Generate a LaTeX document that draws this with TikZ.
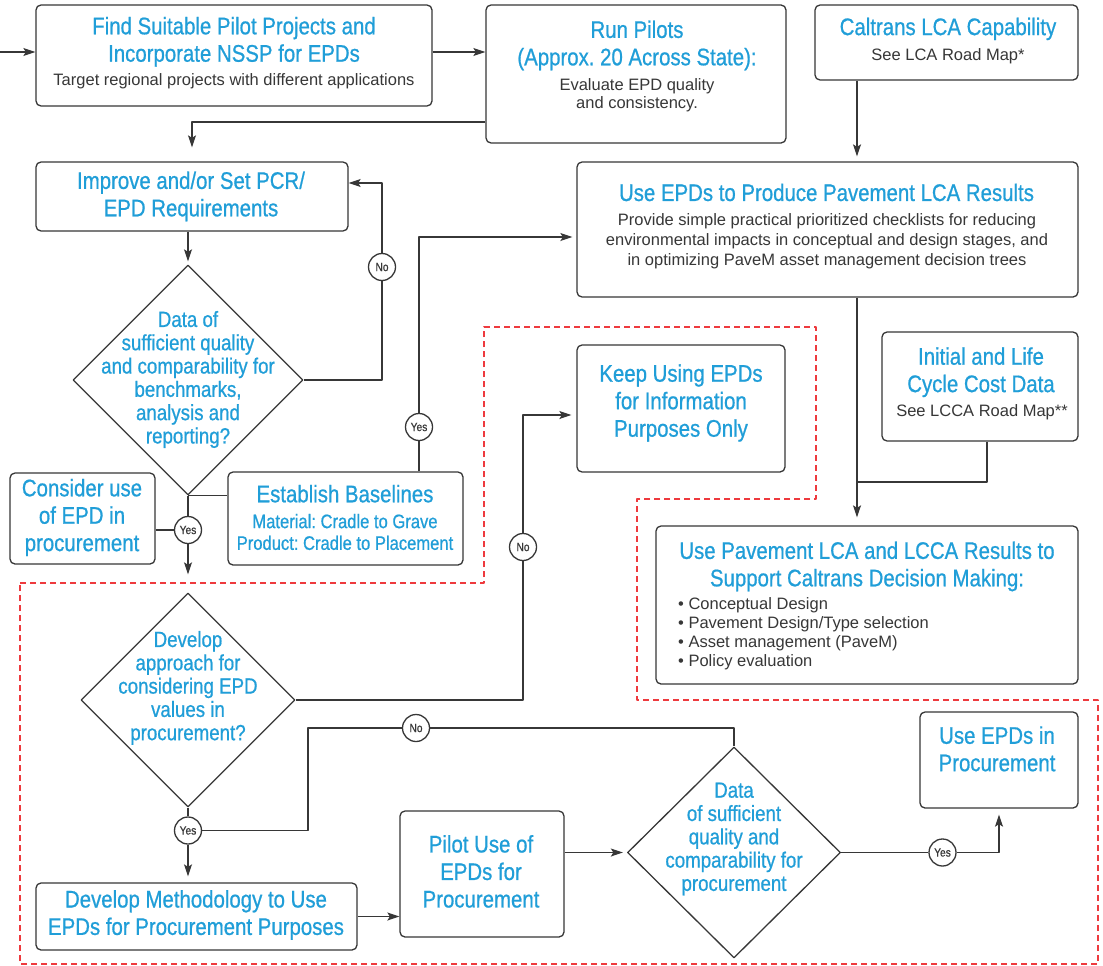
\documentclass[tikz,border=0pt]{standalone}
\usepackage{fontspec}
\setmainfont{Liberation Sans}
\newfontfamily\condf[FakeStretch=0.85,FakeBold=0.7]{Liberation Sans}
\usetikzlibrary{arrows.meta,shapes.geometric,calc}
\definecolor{epdblue}{RGB}{32,158,216}
\definecolor{txtgray}{RGB}{55,55,55}
\definecolor{linegray}{RGB}{55,55,55}
\definecolor{dashred}{RGB}{238,58,62}
\frenchspacing
\tikzset{
  rbox/.style={draw=linegray, line width=1.3pt, rounded corners=5pt, fill=white, inner sep=0pt},
  dia/.style={draw=linegray, line width=1.3pt, diamond, aspect=1, inner sep=0pt},
  ttl/.style={font=\condf\fontsize{24}{27.4}\selectfont, text=epdblue, align=center, inner sep=0pt},
  bdy/.style={font=\fontsize{16.5}{20}\selectfont, text=txtgray, align=center, inner sep=0pt},
  dtx/.style={font=\condf\fontsize{22}{23.3}\selectfont, text=epdblue, align=center, inner sep=0pt},
  subt/.style={font=\condf\fontsize{19.5}{21.7}\selectfont, text=epdblue, align=center, inner sep=0pt},
  yn/.style={circle, draw=linegray, line width=1.3pt, fill=white, minimum size=27pt, inner sep=0pt, font=\condf\fontsize{12}{12}\selectfont, text=txtgray},
  conn/.style={draw=linegray, line width=1.3pt},
  arr/.style={conn, -{Stealth[length=12pt, width=8pt, inset=2.5pt]}},
  reddash/.style={draw=dashred, line width=1.4pt, dash pattern=on 6pt off 4pt}
}
\begin{document}
\begin{tikzpicture}[x=1pt, y=-1pt, line join=round]
\fill[white] (0,0) rectangle (1103,966);
\useasboundingbox (0,0) rectangle (1103,966);

% red dashed region
\draw[reddash] (20,583) -- (484,583) -- (484,327) -- (816,327) -- (816,499) -- (637,499) -- (637,700) -- (1098,700) -- (1098,964) -- (20,964) -- cycle;

% boxes
\node[rbox, minimum width=396pt, minimum height=101pt] (A) at (234,55.5) {};
\node[rbox, minimum width=300pt, minimum height=138pt] (B) at (636,74) {};
\node[rbox, minimum width=263pt, minimum height=75pt] (C) at (946.5,42.5) {};
\node[rbox, minimum width=312pt, minimum height=69pt] (D) at (192,196.5) {};
\node[rbox, minimum width=501pt, minimum height=135pt] (E) at (827.5,229.5) {};
\node[rbox, minimum width=196pt, minimum height=109pt] (G) at (980,386.5) {};
\node[rbox, minimum width=208pt, minimum height=127pt] (H) at (681,408.5) {};
\node[rbox, minimum width=235pt, minimum height=93pt] (I) at (345.5,518.5) {};
\node[rbox, minimum width=145pt, minimum height=91pt] (J) at (82.5,518.5) {};
\node[rbox, minimum width=422pt, minimum height=158pt] (F) at (867,605) {};
\node[rbox, minimum width=158pt, minimum height=96pt] (M) at (999,760) {};
\node[rbox, minimum width=321pt, minimum height=67pt] (K) at (196.5,916.5) {};
\node[rbox, minimum width=164pt, minimum height=126pt] (L) at (482,874) {};

% diamonds
\node[dia, minimum width=230pt, minimum height=230pt] (d1) at (188,380) {};
\node[dia, minimum width=214pt, minimum height=214pt] (d2) at (188,700) {};
\node[dia, minimum width=213pt, minimum height=211pt] (d3) at (734,852.5) {};

% texts
\node[ttl] (At) at (234,41.8) {Find Suitable Pilot Projects and\\Incorporate NSSP for EPDs};
\node[bdy] (Ab) at (234,81.7) {Target regional projects with different applications};
\node[ttl] (Bt) at (637,45.4) {Run Pilots\\(Approx. 20 Across State):};
\node[bdy, font=\fontsize{16.5}{18.5}\selectfont] (Bb) at (637,95) {Evaluate EPD quality\\and consistency.};
\node[ttl] (Ct) at (948,28.9) {Caltrans LCA Capability};
\node[bdy] (Cb) at (948,55.9) {See LCA Road Map*};
\node[ttl] (Dt) at (191,196.4) {Improve and/or Set PCR/\\EPD Requirements};
\node[dtx] (d1t) at (188,379.5) {Data of\\sufficient quality\\and comparability for\\benchmarks,\\analysis and\\reporting?};
\node[ttl] (Et) at (826.5,192.4) {Use EPDs to Produce Pavement LCA Results};
\node[bdy] (Eb) at (827,240.9) {Provide simple practical prioritized checklists for reducing\\environmental impacts in conceptual and design stages, and\\in optimizing PaveM asset management decision trees};
\node[ttl] (Gt) at (981,372.2) {Initial and Life\\Cycle Cost Data};
\node[bdy] (Gb) at (982,412.5) {See LCCA Road Map**};
\node[ttl, font=\condf\fontsize{24}{27.5}\selectfont] (Ht) at (681,403) {Keep Using EPDs\\for Information\\Purposes Only};
\node[ttl] (It) at (345,493.7) {Establish Baselines};
\node[subt] (Ib) at (345,532) {Material: Cradle to Grave\\Product: Cradle to Placement};
\node[ttl] (Jt) at (82,517.5) {Consider use\\of EPD in\\procurement};
\node[dtx] (d2t) at (188,687.9) {Develop\\approach for\\considering EPD\\values in\\procurement?};
\node[ttl] (Ft) at (867,566.4) {Use Pavement LCA and LCCA Results to\\Support Caltrans Decision Making:};
\node[bdy, align=left, anchor=west, font=\fontsize{16.5}{19}\selectfont] (Fb) at (678,634.2) {• Conceptual Design\\• Pavement Design/Type selection\\• Asset management (PaveM)\\• Policy evaluation};
\node[ttl] (Mt) at (997,748.9) {Use EPDs in\\Procurement};
\node[ttl] (Kt) at (196,915) {Develop Methodology to Use\\EPDs for Procurement Purposes};
\node[ttl, font=\condf\fontsize{24}{27.5}\selectfont] (Lt) at (481,871.4) {Pilot Use of\\EPDs for\\Procurement};
\node[dtx] (d3t) at (734,839) {Data\\of sufficient\\quality and\\comparability for\\procurement};

% yes / no circles
\node[yn] (no1) at (382,267) {No};
\node[yn] (yes1) at (419,427) {Yes};
\node[yn] (yes2) at (188,530) {Yes};
\node[yn] (no2) at (523,547) {No};
\node[yn] (yes3) at (188,830.5) {Yes};
\node[yn] (no3) at (416,728) {No};
\node[yn] (yes4) at (942.5,852.5) {Yes};

% helper coordinates
\coordinate (start) at (0,52);
\coordinate (bd) at (0,122);
\coordinate (vx) at (857,0);
\coordinate (gj) at (857,482);
\coordinate (lp) at (308,728);

% connectors
\draw[arr] (start) -- (A.west |- start);
\draw[arr] (A.east |- start) -- (B.west |- start);
\draw[arr, shorten >=14pt] (B.west |- bd) -| (D.north);
\draw[arr, shorten >=5pt] (C.south -| vx) -- (E.north -| vx);
\draw[arr, shorten >=3pt] (d1.north |- D.south) -- (d1.north);
\draw[conn] (d1.east) -| (no1);
\draw[arr] (no1) |- ([yshift=13.5pt]D.east);
\draw[conn] (I.north -| yes1) -- (yes1);
\draw[arr, shorten >=4pt] (yes1) |- ([yshift=-7.5pt]E.west);
\draw[conn] (d1.south) -- (d1.south -| I.west);
\draw[conn] (d1.south) -- (yes2);
\draw[conn] (J.east |- yes2) -- (yes2);
\draw[arr, shorten >=18pt] (yes2) -- (d2.north);
\draw[conn] (d2.east) -| (no2);
\draw[arr, shorten >=5pt] (no2) |- ([yshift=-6.5pt]H.west);
\draw[conn] (d2.south) -- (yes3);
\draw[arr, shorten >=6pt] (yes3) -- (yes3 |- K.north);
\draw[conn] (yes3) -| (lp) -- (no3);
\draw[conn] (no3) -| (d3.north);
\draw[arr] (K.east) -- (K.east -| L.west);
\draw[arr, shorten >=4pt] (d3.west -| L.east) -- (d3.west);
\draw[conn] (d3.east) -- (yes4);
\draw[arr, shorten >=6pt] (yes4) -| (M.south);
\draw[arr, shorten >=8pt] (E.south -| vx) -- (F.north -| vx);
\draw[conn] ([xshift=7pt]G.south) |- (gj);
\end{tikzpicture}
\end{document}
